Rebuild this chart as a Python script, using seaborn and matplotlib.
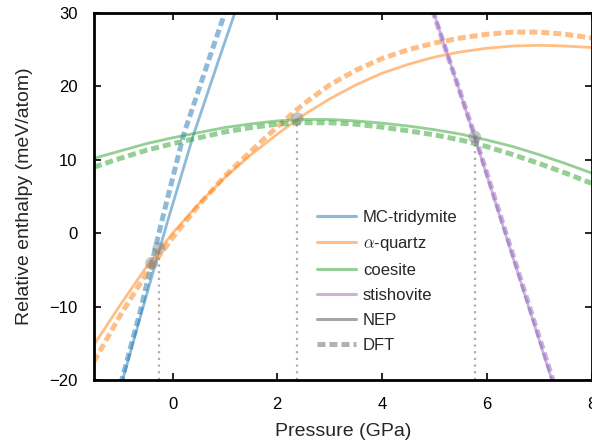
import matplotlib
matplotlib.use("Agg")
import matplotlib.pyplot as plt
from matplotlib.lines import Line2D
import seaborn as sns

# pressure grid (GPa) for the alpha-quartz and coesite curves
p_grid = [-1.5, -1.0, -0.5, 0.0, 0.5, 1.0, 1.5, 2.0, 2.5, 3.0,
          3.5, 4.0, 4.5, 5.0, 5.5, 6.0, 6.5, 7.0, 7.5, 8.0]

# relative enthalpy (meV/atom)
quartz_nep = [-15.2, -9.8, -4.6, 0.0, 4.0, 7.6, 10.7, 13.5, 16.1, 18.3,
              20.2, 21.8, 23.0, 24.0, 24.7, 25.2, 25.5, 25.6, 25.5, 25.3]
quartz_dft = [-17.5, -11.2, -5.5, -0.6, 3.8, 7.8, 11.2, 14.5, 17.6, 20.2,
              22.2, 23.8, 25.0, 25.9, 26.6, 27.1, 27.4, 27.4, 27.1, 26.6]
coesite_nep = [10.2, 11.2, 12.2, 13.0, 13.7, 14.4, 14.9, 15.3, 15.5, 15.5,
               15.3, 15.0, 14.6, 14.1, 13.5, 12.7, 11.8, 10.7, 9.5, 8.2]
coesite_dft = [9.0, 10.2, 11.3, 12.2, 13.0, 13.8, 14.4, 14.85, 15.05, 15.05,
               14.85, 14.45, 13.95, 13.4, 12.7, 11.8, 10.7, 9.5, 8.2, 6.8]

# steep phases
tridymite_nep_p = [-1.1, -0.6, -0.1, 0.4, 0.9, 1.4]
tridymite_nep_h = [-23.7, -11.0, 1.5, 13.4, 24.0, 34.4]
tridymite_dft_p = [-1.11, -0.63, -0.21, 0.21, 0.71, 1.21]
tridymite_dft_h = [-23.7, -11.0, 1.5, 13.4, 24.0, 34.4]

stishovite_nep_p = [4.85, 5.77, 7.40]
stishovite_nep_h = [33.0, 13.1, -23.5]
stishovite_dft_p = [4.84, 5.78, 7.42]
stishovite_dft_h = [33.0, 13.1, -23.5]

# phase transitions
trans_nep_p = [-0.26, 2.38, 5.77]
trans_nep_h = [-2.05, 15.6, 13.1]
trans_dft_p = [-0.40]
trans_dft_h = [-4.1]

phases = ["MC-tridymite", r"$\alpha$-quartz", "coesite", "stishovite"]
colors = ["tab:blue", "tab:orange", "tab:green", "tab:purple"]

xlim = (-1.5, 8)
ylim = (-20, 30)

sns.set_theme(style="ticks")
plt.rcParams["font.family"] = ["Liberation Sans", "DejaVu Sans"]
plt.rcParams["mathtext.fontset"] = "cm"

fig = plt.figure(figsize=(5.92, 4.47), dpi=100)
ax = fig.add_axes([94 / 592, 67 / 447, 497.5 / 592, 367 / 447])

dash = (0, (1.6, 0.8))
solid_kw = dict(lw=2.0, alpha=0.5, sort=False, estimator=None, legend=False, ax=ax)
dash_kw = dict(lw=3.6, alpha=0.5, sort=False, estimator=None, legend=False, ax=ax,
               linestyle=dash)

# dotted guides down from the transitions
for p, h in zip(trans_nep_p, trans_nep_h):
    sns.lineplot(x=[p, p], y=[ylim[0], h], color="0.6", lw=1.6, linestyle=(0, (1, 2)),
                 alpha=0.8, sort=False, estimator=None, legend=False, ax=ax)

curves = [
    (tridymite_nep_p, tridymite_nep_h, tridymite_dft_p, tridymite_dft_h),
    (p_grid, quartz_nep, p_grid, quartz_dft),
    (p_grid, coesite_nep, p_grid, coesite_dft),
    (stishovite_nep_p, stishovite_nep_h, stishovite_dft_p, stishovite_dft_h),
]
for (xn, yn, xd, yd), c in zip(curves, colors):
    sns.lineplot(x=xn, y=yn, color=c, **solid_kw)
    sns.lineplot(x=xd, y=yd, color=c, **dash_kw)

sns.scatterplot(x=trans_nep_p + trans_dft_p, y=trans_nep_h + trans_dft_h,
                color="0.5", alpha=0.45, s=85, edgecolor="none", ax=ax, zorder=5)

ax.set_xlim(*xlim)
ax.set_ylim(*ylim)
ax.set_xticks([0, 2, 4, 6, 8])
ax.set_yticks([-20, -10, 0, 10, 20, 30])
ax.tick_params(direction="in", top=True, right=True, length=5, width=1.2,
               labelsize=12, pad=12, colors="black")
for s in ax.spines.values():
    s.set_linewidth(2)
    s.set_color("black")

ax.set_xlabel("Pressure (GPa)", fontsize=14)
ax.set_ylabel("Relative enthalpy (meV/atom)", fontsize=14)
ax.xaxis.set_label_coords(0.5, -0.118)
ax.yaxis.set_label_coords(-0.122, 0.5)

handles = [Line2D([], [], color=c, lw=2.2, alpha=0.5) for c in colors]
handles.append(Line2D([], [], color="gray", lw=2.2, alpha=0.7))
handles.append(Line2D([], [], color="gray", lw=3.6, alpha=0.6, linestyle=dash))
ax.legend(handles, phases + ["NEP", "DFT"], loc="upper left",
          bbox_to_anchor=(0.449, 0.463), frameon=False, fontsize=12,
          handlelength=2.33, handletextpad=0.4, labelspacing=0.6,
          borderpad=0, borderaxespad=0)

fig.savefig("out.png", dpi=100)
